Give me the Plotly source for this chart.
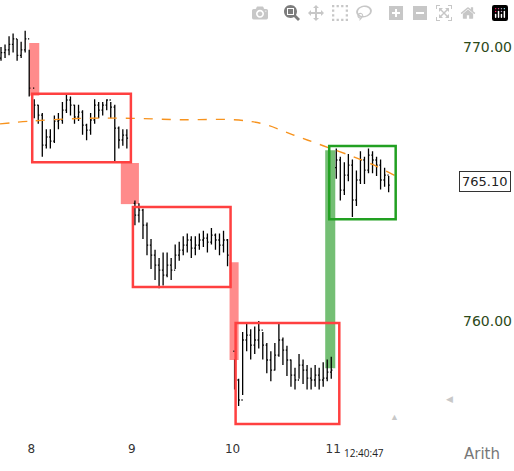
import numpy as np
import plotly.graph_objects as go

# --- data ---
seg_starts = [7.70, 8.03, 9.03, 10.02, 11.03]
first_opens = [769.6, 768.5, 764.3, 758.9, 765.6]
closes = [
    [769.8, 769.9, 770.1, 770.3, 769.7, 769.9, 770.3, 768.5],
    [767.88, 767.52, 766.42, 766.72, 766.57, 767.30, 767.34, 767.70, 768.07, 767.88, 767.45, 767.63,
     767.15, 766.97, 767.34, 767.88, 767.70, 767.88, 768.07, 767.81, 767.04, 766.61, 766.79, 766.68],
    [763.87, 764.05, 763.50, 762.77, 762.41, 762.04, 761.86, 761.68, 762.04, 761.86, 762.41, 762.59,
     762.77, 762.96, 762.66, 762.77, 762.96, 763.03, 762.88, 763.14, 762.96, 762.77, 762.96, 762.41],
    [757.85, 757.12, 759.31, 759.49, 759.12, 759.31, 759.67, 759.12, 758.58, 758.21, 758.76, 759.31,
     758.94, 758.58, 758.03, 757.85, 758.39, 758.21, 757.92, 757.85, 758.03, 757.85, 757.92, 758.14, 758.21],
    [765.88, 764.78, 765.33, 765.69, 764.42, 765.15, 765.88, 765.51, 766.06, 765.88, 765.69, 765.15, 765.33, 764.96],
]
highs = [
    [770.0, 770.1, 770.4, 770.5, 770.3, 770.2, 770.6, 769.9],
    [768.1, 767.9, 767.6, 767.0, 767.0, 767.5, 767.6, 768.0, 768.3, 768.2, 767.9, 767.9,
     767.7, 767.2, 767.6, 768.1, 768.0, 768.0, 768.1, 768.0, 767.9, 767.1, 767.0, 767.0],
    [764.4, 764.3, 764.1, 763.6, 763.0, 762.6, 762.3, 762.5, 762.5, 762.3, 762.8, 762.9,
     763.1, 763.2, 763.1, 763.1, 763.2, 763.3, 763.2, 763.4, 763.2, 763.2, 763.3, 763.0],
    [758.6, 757.9, 759.6, 759.9, 759.7, 759.8, 760.0, 759.6, 759.2, 758.9, 759.2, 759.9,
     759.4, 759.1, 758.6, 758.3, 758.8, 758.6, 758.4, 758.3, 758.4, 758.3, 758.5, 758.6, 758.7],
    [766.3, 766.0, 765.8, 766.1, 765.9, 765.5, 766.2, 766.0, 766.3, 766.2, 766.0, 765.9, 765.6, 765.3],
]
lows = [
    [769.5, 769.6, 769.7, 769.8, 769.5, 769.6, 769.8, 768.2],
    [767.4, 767.2, 766.0, 766.3, 766.3, 766.5, 767.0, 767.2, 767.6, 767.5, 767.2, 767.3,
     766.8, 766.6, 766.8, 767.2, 767.4, 767.5, 767.7, 767.4, 765.8, 766.3, 766.4, 766.3],
    [763.5, 763.6, 763.0, 762.4, 761.9, 761.5, 761.2, 761.3, 761.6, 761.5, 761.9, 762.2,
     762.4, 762.5, 762.3, 762.4, 762.6, 762.7, 762.5, 762.8, 762.6, 762.4, 762.5, 762.0],
    [757.5, 756.9, 757.3, 758.9, 758.6, 758.8, 759.0, 758.6, 758.1, 757.8, 758.2, 758.7,
     758.4, 758.0, 757.6, 757.5, 757.9, 757.7, 757.5, 757.5, 757.6, 757.5, 757.6, 757.8, 757.9],
    [765.2, 764.4, 764.6, 765.1, 763.8, 764.2, 765.0, 765.0, 765.4, 765.4, 765.3, 764.8, 764.9, 764.7],
]
bar_step = 0.04

ma_t = [7.69, 8.0, 8.5, 9.0, 9.5, 10.0, 10.3, 10.6, 10.9, 11.2, 11.4, 11.62]
ma_v = [767.2, 767.3, 767.4, 767.4, 767.35, 767.35, 767.2, 766.8, 766.4, 766.0, 765.7, 765.3]

# gap bars: (x0, x1, y0, y1, color)
gaps = [(7.98, 8.08, 768.23, 770.15, "rgba(255,90,90,0.7)"),
        (8.89, 9.07, 764.27, 765.77, "rgba(255,90,90,0.7)"),
        (9.97, 10.06, 758.58, 762.15, "rgba(255,90,90,0.7)"),
        (10.92, 11.02, 758.28, 766.24, "rgba(70,170,70,0.75)")]
# range boxes
boxes = [(8.01, 8.99, 765.8, 768.3, "#ff4040"),
         (9.01, 9.98, 761.24, 764.16, "#ff4040"),
         (10.03, 11.06, 756.24, 759.93, "#ff4040"),
         (10.96, 11.62, 763.72, 766.39, "#22a022")]
last_price = 765.10
x_ticks = [8, 9, 10, 11]
y_ticks = [760, 770]
y_labels = ["760.00", "770.00"]

# --- build ---
t, o, h, l, c = [], [], [], [], []
for s, fo, cs, hs, ls in zip(seg_starts, first_opens, closes, highs, lows):
    opens = [fo] + cs[:-1]
    t += list(s + bar_step * np.arange(len(cs)))
    o += opens; h += hs; l += ls; c += cs

fig = go.Figure()
for x0, x1, y0, y1, col in gaps:
    fig.add_shape(type="rect", x0=x0, x1=x1, y0=y0, y1=y1, fillcolor=col, line_width=0, layer="below")
fig.add_trace(go.Ohlc(x=t, open=o, high=h, low=l, close=c,
                      increasing_line_color="black", decreasing_line_color="black",
                      line_width=1.3, tickwidth=0.3, showlegend=False, hoverinfo="skip"))
fig.add_trace(go.Scatter(x=ma_t, y=ma_v, mode="lines", line=dict(color="#f7931e", width=1.4, dash="dash", shape="spline"),
                         showlegend=False))
for x0, x1, y0, y1, col in boxes:
    fig.add_shape(type="rect", x0=x0, x1=x1, y0=y0, y1=y1, line=dict(color=col, width=2.5))

fig.add_annotation(x=1.0, xref="paper", y=last_price, yref="y", text="765.10", showarrow=False,
                   xanchor="right", font=dict(size=13, color="#222", family="Segoe UI, DejaVu Sans"),
                   bordercolor="#333", borderwidth=1, bgcolor="white", borderpad=2, xshift=-3)
fig.add_annotation(x=1.0, xref="paper", y=0, yref="paper", yshift=-25, text="Arith", showarrow=False,
                   xanchor="right", xshift=-12, font=dict(size=15, color="#777", family="Segoe UI, DejaVu Sans"))
fig.add_annotation(x=0.75, xref="paper", y=0, yref="paper", yshift=-22, text="12:40:47", showarrow=False,
                   font=dict(size=10, color="#222"))
fig.add_annotation(x=0.885, xref="paper", y=0.076, yref="paper", text="◀", showarrow=False,
                   font=dict(size=9, color="#c8c8c8"))
fig.add_annotation(x=0.78, xref="paper", y=0.034, yref="paper", text="▲", showarrow=False,
                   font=dict(size=9, color="#c8c8c8"))

fig.update_layout(
    width=514, height=471, margin=dict(l=0, r=0, t=0, b=31),
    plot_bgcolor="white", paper_bgcolor="white",
    xaxis=dict(range=[7.69, 12.06], domain=[0, 0.856], tickvals=x_ticks, ticktext=[str(v) for v in x_ticks],
               showgrid=False, zeroline=False, rangeslider_visible=False, ticks="",
               tickfont=dict(size=12, color="#333", family="Segoe UI, DejaVu Sans")),
    yaxis=dict(range=[755.66, 771.72], side="right", tickvals=y_ticks,
               ticktext=y_labels, showgrid=False, zeroline=False, ticks="",
               ticklabelstandoff=22,
               tickfont=dict(size=14, color="#2d4a1a", family="Segoe UI, DejaVu Sans")),
)
fig.write_html("out.html")
with open("out.html", encoding="utf-8") as f:
    html = f.read()
html = html.replace("<body>", '<body style="margin:0;padding:0;overflow:hidden">', 1)
with open("out.html", "w", encoding="utf-8") as f:
    f.write(html)
